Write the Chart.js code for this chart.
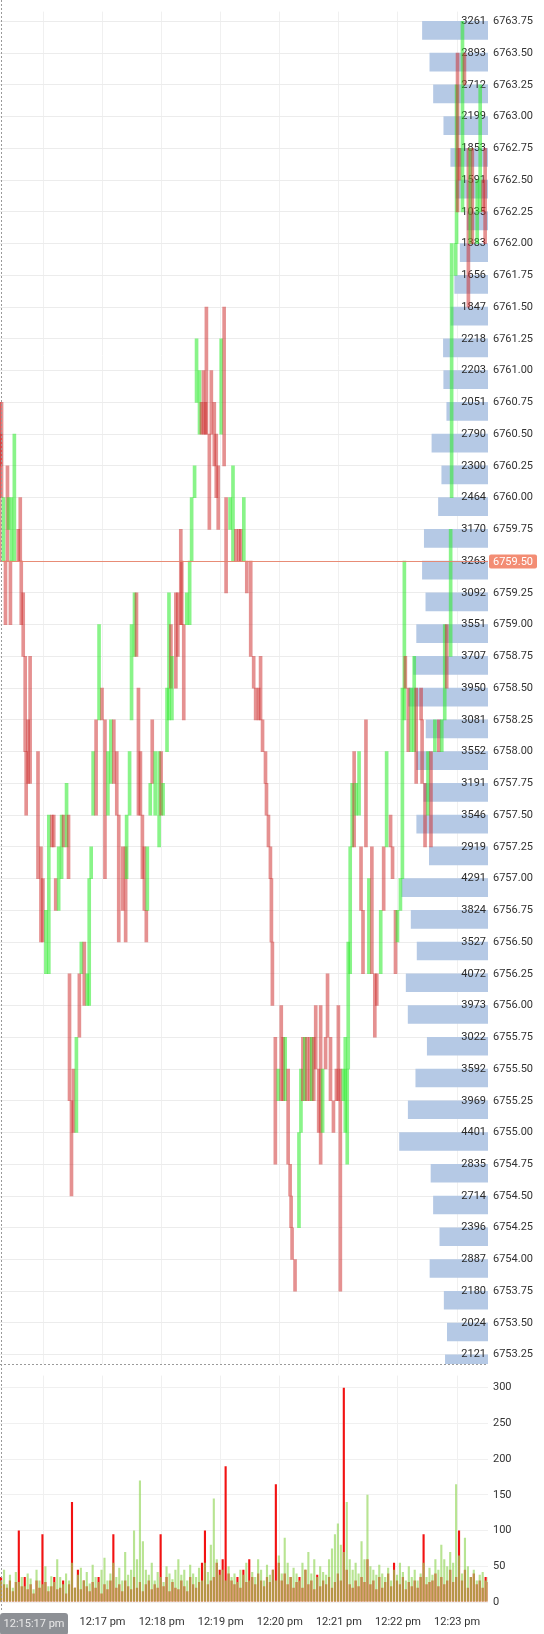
<!DOCTYPE html>
<html><head><meta charset="utf-8">
<script src="https://cdn.jsdelivr.net/npm/chart.js@4.4.0/dist/chart.umd.min.js"></script>
<style>
html,body{margin:0;padding:0;background:#fff;}
#wrap{position:relative;width:544px;height:1634px;overflow:hidden;background:#fff;}
#pc{position:absolute;left:0;top:0;width:544px;height:1400px;}
#vc{position:absolute;left:0;top:1364px;width:544px;height:270px;background:#fff;}
</style></head><body><div id="wrap"><div id="pc"><canvas id="price"></canvas></div><div id="vc"><canvas id="vol"></canvas></div></div>
<script>
// ---------- DATA ----------
const priceLevels = [6763.75,6763.50,6763.25,6763.00,6762.75,6762.50,6762.25,6762.00,6761.75,6761.50,6761.25,6761.00,6760.75,6760.50,6760.25,6760.00,6759.75,6759.50,6759.25,6759.00,6758.75,6758.50,6758.25,6758.00,6757.75,6757.50,6757.25,6757.00,6756.75,6756.50,6756.25,6756.00,6755.75,6755.50,6755.25,6755.00,6754.75,6754.50,6754.25,6754.00,6753.75,6753.50,6753.25];
const profileVolumes = [3261,2893,2712,2199,1853,1591,1035,1383,1656,1847,2218,2203,2051,2790,2300,2464,3170,3263,3092,3551,3707,3950,3081,3552,3191,3546,2919,4291,3824,3527,4072,3973,3022,3592,3969,4401,2835,2714,2396,2887,2180,2024,2121];
const lastPrice = 6759.50;
const crosshairLabel = '12:15:17 pm';
// time axis: seconds after 12:15:00
const timeTickValues = [60,120,180,240,300,360,420,480];
const timeTickLabels = ['12:16 pm','12:17 pm','12:18 pm','12:19 pm','12:20 pm','12:21 pm','12:22 pm','12:23 pm'];
const volTickValues = [0,50,100,150,200,250,300];

const candleTime = [17,18,19,21,23,25,26,28,29,32,36,38,39,41,43,44,46,48,56,59,61,64,67,70,72,74,77,80,82,85,87,88,90,92,95,98,100,103,106,108,110,112,115,118,121,124,127,130,133,136,138,142,145,146,149,151,154,156,158,160,162,164,166,167,170,172,175,179,181,183,187,189,191,192,196,198,201,202,204,207,210,212,215,217,220,222,224,226,227,230,232,235,237,239,242,245,247,251,254,257,260,262,265,268,272,275,277,280,282,284,287,288,290,292,293,294,297,300,303,305,307,310,312,313,314,317,321,323,325,327,329,332,334,336,338,341,343,345,348,350,353,356,359,361,363,366,368,370,371,373,375,377,379,382,384,386,389,392,395,398,400,404,407,410,414,416,419,421,424,426,428,429,432,435,438,440,445,446,449,452,455,459,463,466,469,471,475,476,480,481,482,484,487,489,493,495,497,502,505,508,510];
const candleOpen = [6760.75,6760.50,6760.75,6759.50,6759.50,6760.25,6759.75,6759.50,6759.50,6759.50,6759.75,6760.00,6759.50,6759.25,6758.75,6758.00,6758.25,6758.75,6758.00,6757.25,6757.00,6756.25,6756.25,6757.50,6757.50,6757.00,6756.75,6757.00,6757.50,6757.25,6757.50,6756.25,6755.25,6755.50,6755.00,6756.25,6756.25,6756.50,6756.00,6756.00,6757.00,6757.50,6758.25,6758.25,6758.50,6758.25,6757.50,6757.75,6758.25,6758.00,6757.50,6757.25,6757.25,6757.00,6757.50,6758.25,6758.75,6759.25,6758.50,6758.00,6757.50,6757.25,6756.75,6756.75,6757.50,6758.25,6757.50,6757.25,6758.00,6757.50,6758.00,6758.25,6759.00,6758.25,6759.25,6759.25,6759.75,6759.50,6759.00,6759.00,6759.00,6759.50,6760.00,6760.75,6760.50,6760.75,6761.00,6760.75,6761.50,6760.50,6761.00,6760.75,6760.50,6760.25,6760.50,6761.50,6760.00,6759.75,6759.50,6759.75,6759.75,6759.75,6759.50,6759.50,6759.50,6758.75,6758.50,6758.50,6758.75,6758.25,6758.00,6757.75,6757.50,6757.25,6757.00,6756.50,6755.75,6755.25,6756.00,6755.75,6755.25,6755.50,6754.75,6754.50,6754.25,6754.00,6754.25,6755.00,6755.75,6755.25,6755.75,6755.75,6755.25,6755.75,6756.00,6755.50,6756.00,6755.00,6755.75,6756.25,6755.75,6755.25,6755.50,6756.00,6755.50,6755.25,6755.00,6754.75,6755.50,6756.25,6757.25,6758.00,6757.50,6757.50,6757.25,6756.75,6758.25,6756.25,6757.25,6756.25,6756.25,6756.25,6757.25,6757.25,6757.50,6757.25,6756.75,6756.50,6756.75,6757.00,6758.25,6758.75,6758.50,6758.00,6758.00,6758.50,6758.50,6758.25,6757.75,6757.50,6758.00,6758.00,6758.25,6758.00,6758.25,6759.00,6758.75,6760.00,6761.75,6762.00,6763.50,6762.75,6762.25,6763.50,6762.75,6762.00,6762.75,6762.00,6762.25,6762.50,6762.75];
const candleClose = [6759.50,6760.25,6760.00,6760.00,6759.00,6759.50,6760.00,6759.00,6760.00,6760.50,6759.50,6759.50,6759.00,6758.75,6758.00,6757.50,6757.75,6757.75,6757.00,6756.50,6756.50,6756.75,6757.50,6757.25,6757.25,6756.75,6757.25,6757.50,6757.25,6757.75,6757.00,6755.25,6754.50,6755.00,6755.75,6755.75,6756.50,6756.00,6756.25,6757.00,6757.25,6758.00,6757.50,6759.00,6758.25,6757.00,6758.00,6758.25,6757.75,6757.50,6756.50,6756.75,6756.50,6757.50,6758.00,6759.00,6759.25,6758.75,6757.50,6757.50,6757.00,6756.75,6756.50,6757.25,6757.75,6757.75,6758.00,6758.00,6757.50,6757.75,6758.50,6759.25,6758.50,6758.75,6758.50,6758.75,6759.00,6759.00,6758.25,6759.25,6759.50,6760.00,6760.25,6761.25,6761.00,6760.50,6760.50,6760.50,6760.50,6759.75,6760.50,6760.25,6760.00,6759.75,6761.25,6760.25,6759.25,6760.00,6760.25,6759.50,6759.50,6759.50,6760.00,6759.25,6758.75,6758.50,6758.25,6758.25,6758.25,6758.00,6757.75,6757.50,6757.25,6757.00,6756.50,6756.00,6754.75,6755.50,6755.25,6755.25,6755.75,6754.75,6754.50,6754.25,6754.00,6753.75,6755.00,6755.50,6755.25,6755.75,6755.25,6755.25,6755.75,6755.25,6755.50,6755.00,6754.75,6755.50,6755.50,6755.75,6755.25,6755.00,6755.25,6755.25,6753.75,6755.50,6755.75,6755.50,6756.50,6757.25,6757.75,6757.25,6757.75,6758.00,6756.75,6756.25,6757.25,6757.00,6756.25,6755.75,6756.00,6756.75,6756.75,6758.00,6757.25,6757.00,6756.25,6756.75,6757.00,6758.50,6759.50,6758.50,6758.00,6758.50,6758.75,6757.75,6758.25,6757.75,6757.25,6758.00,6757.25,6758.25,6758.00,6758.25,6759.00,6758.50,6759.75,6762.00,6762.00,6763.25,6762.25,6762.50,6763.75,6763.25,6761.50,6762.75,6762.00,6762.50,6763.25,6762.25,6762.00];

// volume: one bar every 3 s starting 12:15:17
const volStart = 17, volStep = 3;
const buyVolume = [30,45,25,38,20,42,28,35,22,40, 33,18,45,30,25,50,22,36,28,60, 35,25,40,30,55,20,38,48,30,42, 26,52,35,28,45,62,30,40,55,35, 48,30,70,38,45,100,60,170,85,45, 38,55,30,42,35,28,50,40,32,45, 60,38,45,30,52,40,35,48,30,55, 42,80,145,60,38,45,30,50,35,40, 28,45,38,55,30,42,35,60,45,30, 52,38,45,30,65,40,90,55,35,48, 40,30,55,45,70,40,60,35,50,42, 38,60,75,95,110,80,70,140,60,45, 55,40,85,60,150,50,45,38,52,40, 35,48,30,45,38,55,42,30,50,35, 45,30,40,55,35,48,38,60,45,80, 60,50,70,55,165,65,40,90,50,35, 45,30,38,42,30,35];
const sellVolume = [35,25,20,30,15,28,100,22,35,18, 25,12,30,20,95,28,15,22,35,18, 20,30,12,25,140,20,45,18,30,22, 15,28,20,35,12,25,18,30,95,20, 25,15,30,22,18,35,20,28,15,25, 30,18,25,20,95,22,35,15,28,20, 18,30,22,15,35,25,20,28,55,100, 25,30,35,55,45,60,190,40,30,25, 35,20,45,28,60,35,25,40,30,22, 35,28,45,165,55,30,40,25,35,20, 28,35,20,45,25,30,18,38,22,30, 25,35,20,28,40,30,300,45,25,20, 30,22,35,28,60,25,30,18,35,20, 28,40,22,55,30,25,35,18,28,22, 30,20,35,95,25,28,30,40,22,35, 25,30,45,28,35,100,30,45,20,35, 40,25,30,20,35,28];

// ---------- LAYOUT / STYLE ----------
const X_MIN = 15.9, X_MAX = 511.4;
const AXIS_W = 56;
const PX_PER_TICK = 32.28;
const Y_MAX = 6763.75 + 10 / PX_PER_TICK * 0.25;
const Y_MIN = Y_MAX - 1400 / PX_PER_TICK * 0.25;
const UP = 'rgba(40,235,40,0.55)', DOWN = 'rgba(205,45,45,0.52)';
const FONT = {family: 'Roboto', size: 11};
const TXT = '#333';

Chart.defaults.font.family = 'Roboto';
const volTimes = buyVolume.map((v, i) => volStart + i * volStep);

const profileText = {
  id: 'profileText',
  afterDatasetDraw(chart, args) {
    if (args.index !== 1) return;
    const ctx = chart.ctx, y = chart.scales.y, right = chart.chartArea.right;
    ctx.save();
    ctx.font = '11px Roboto';
    ctx.fillStyle = '#2a2a2a';
    ctx.textAlign = 'right';
    ctx.textBaseline = 'middle';
    priceLevels.forEach((p, i) => ctx.fillText(String(profileVolumes[i]), right - 2, y.getPixelForValue(p)));
    ctx.restore();
  },
  afterDraw(chart) {
    const ctx = chart.ctx, y = chart.scales.y, a = chart.chartArea;
    const py = Math.round(y.getPixelForValue(lastPrice)) + 0.5;
    ctx.save();
    ctx.strokeStyle = 'rgba(232,130,105,0.9)';
    ctx.lineWidth = 1;
    ctx.beginPath(); ctx.moveTo(a.left, py); ctx.lineTo(a.right, py); ctx.stroke();
    ctx.fillStyle = '#f38d74';
    ctx.beginPath(); ctx.roundRect(a.right + 1, py - 7, 48, 14, 2); ctx.fill();
    ctx.fillStyle = '#fff';
    ctx.font = '11px Roboto';
    ctx.textBaseline = 'middle';
    ctx.textAlign = 'left';
    ctx.fillText(lastPrice.toFixed(2), a.right + 5, py + 0.5);
    // crosshair vertical
    ctx.strokeStyle = '#9a9a9a';
    ctx.setLineDash([2, 2]);
    ctx.beginPath(); ctx.moveTo(1.5, 0); ctx.lineTo(1.5, chart.height); ctx.stroke();
    ctx.restore();
  }
};

new Chart(document.getElementById('price'), {
  type: 'bar',
  data: {
    datasets: [
      {
        label: 'candles',
        data: candleTime.map((t, i) => ({x: t, y: [candleOpen[i], candleClose[i]]})),
        backgroundColor: candleTime.map((t, i) => candleClose[i] >= candleOpen[i] ? UP : DOWN),
        barThickness: 3, borderWidth: 0, xAxisID: 'x', yAxisID: 'y', order: 1
      },
      {
        label: 'profile', indexAxis: 'y',
        data: priceLevels.map((p, i) => ({x: profileVolumes[i], y: p})),
        backgroundColor: '#b5c9e5',
        barThickness: 18, borderWidth: 0, xAxisID: 'xp', yAxisID: 'yp', order: 2
      }
    ]
  },
  options: {
    responsive: true, maintainAspectRatio: false, animation: false,
    layout: {padding: 0},
    plugins: {legend: {display: false}, tooltip: {enabled: false}},
    scales: {
      x: {
        type: 'linear', min: X_MIN, max: X_MAX, position: 'bottom', offset: false,
        afterBuildTicks(s) { s.ticks = timeTickValues.map(v => ({value: v})); },
        ticks: {display: false}, border: {display: false},
        grid: {color: '#f0f0f0', drawTicks: false, offset: false},
        afterFit(s) { s.height = 0; }
      },
      xp: {type: 'linear', display: false, reverse: true, min: 0, max: 24280, offset: false, grid: {offset: false}},
      y: {
        type: 'linear', position: 'right', min: Y_MIN, max: Y_MAX, offset: false,
        afterBuildTicks(s) { s.ticks = priceLevels.map(v => ({value: v})); },
        ticks: {padding: 5, color: TXT, font: FONT, callback: v => Number(v).toFixed(2)},
        grid: {color: '#ececec', drawTicks: false, offset: false}, border: {display: false},
        afterFit(s) { s.width = AXIS_W; }
      },
      yp: {type: 'linear', display: false, min: Y_MIN, max: Y_MAX, offset: false, grid: {offset: false}}
    }
  },
  plugins: [profileText]
});

const volDecor = {
  id: 'volDecor',
  afterDraw(chart) {
    const ctx = chart.ctx, a = chart.chartArea;
    ctx.save();
    ctx.strokeStyle = '#9a9a9a';
    ctx.setLineDash([2, 2]);
    ctx.beginPath(); ctx.moveTo(0, 0.5); ctx.lineTo(a.right, 0.5); ctx.stroke();
    ctx.beginPath(); ctx.moveTo(1.5, 0); ctx.lineTo(1.5, a.bottom + 8); ctx.stroke();
    ctx.setLineDash([]);
    ctx.fillStyle = '#8d9095';
    ctx.beginPath(); ctx.roundRect(0, a.bottom + 11, 68, 22, 3); ctx.fill();
    ctx.fillStyle = '#e9e9e9';
    ctx.font = '11px Roboto';
    ctx.textAlign = 'center'; ctx.textBaseline = 'middle';
    ctx.fillText(crosshairLabel, 34, a.bottom + 22);
    ctx.restore();
  }
};

new Chart(document.getElementById('vol'), {
  type: 'bar',
  data: {
    datasets: [
      {label: 'buy', data: volTimes.map((t, i) => ({x: t, y: buyVolume[i]})), backgroundColor: 'rgba(150,215,95,0.68)', grouped: false, categoryPercentage: 1, barPercentage: 0.72, borderWidth: 0},
      {label: 'sell', data: volTimes.map((t, i) => ({x: t, y: sellVolume[i]})), backgroundColor: 'rgb(242,18,18)', grouped: false, categoryPercentage: 1, barPercentage: 0.72, borderWidth: 0}
    ]
  },
  options: {
    responsive: true, maintainAspectRatio: false, animation: false,
    layout: {padding: 0},
    plugins: {legend: {display: false}, tooltip: {enabled: false}},
    scales: {
      x: {
        type: 'linear', min: X_MIN, max: X_MAX, offset: false,
        afterBuildTicks(s) { s.ticks = timeTickValues.map(v => ({value: v})); },
        ticks: {padding: 14, color: TXT, font: FONT, maxRotation: 0, autoSkip: false,
          callback: v => timeTickLabels[timeTickValues.indexOf(v)]},
        grid: {color: '#f0f0f0', drawTicks: false, offset: false}, border: {display: false},
        afterFit(s) { s.height = 32; }
      },
      y: {
        type: 'linear', position: 'right', min: 0, max: 317, offset: false,
        afterBuildTicks(s) { s.ticks = volTickValues.map(v => ({value: v})); },
        ticks: {padding: 5, color: TXT, font: FONT},
        grid: {color: '#f0f0f0', drawTicks: false, offset: false}, border: {display: false},
        afterFit(s) { s.width = AXIS_W; }
      }
    }
  },
  plugins: [volDecor]
});
</script></body></html>
